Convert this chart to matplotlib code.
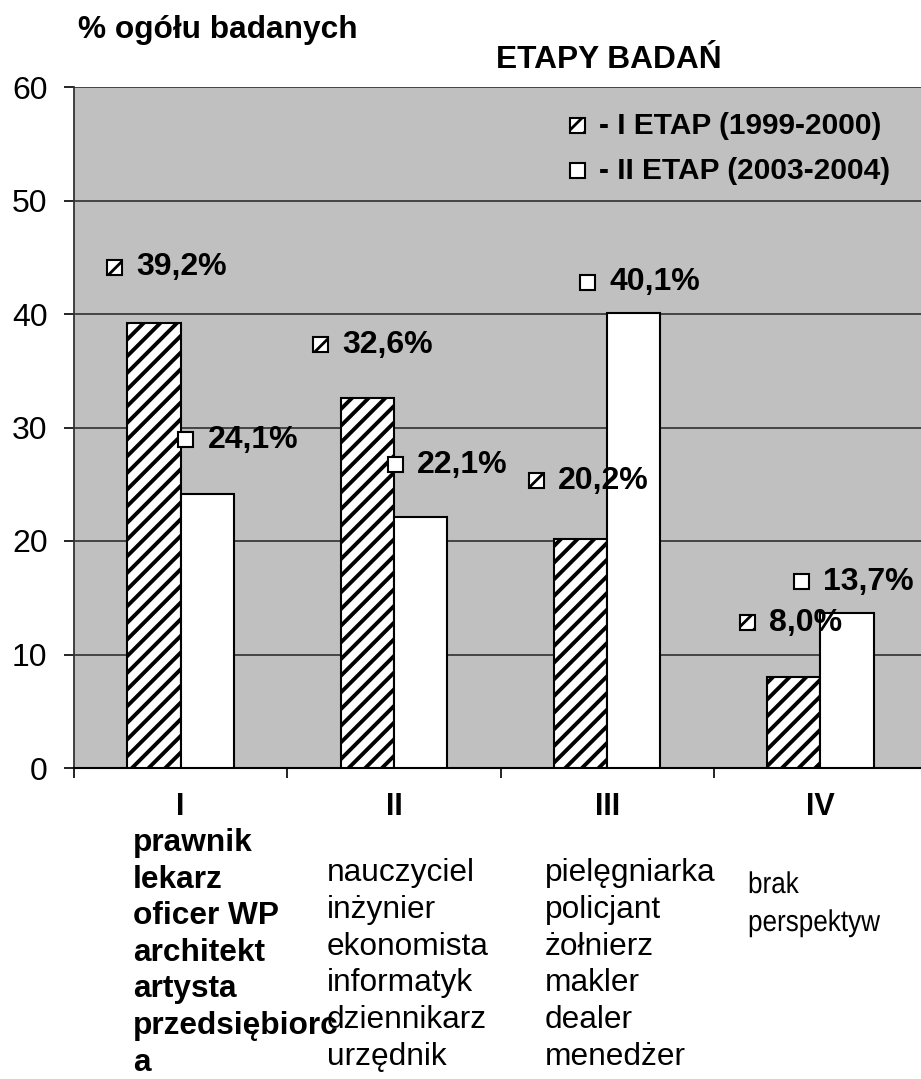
import matplotlib
matplotlib.use('Agg')
import matplotlib.pyplot as plt
from matplotlib.patches import Rectangle, PathPatch
from matplotlib.textpath import TextPath
from matplotlib.font_manager import FontProperties
from matplotlib.transforms import Affine2D

plt.rcParams['font.family'] = ['Liberation Sans', 'DejaVu Sans']

# wyniki w dwóch etapach badań (% ogółu badanych)
groups = ['I', 'II', 'III', 'IV']
etap1 = [39.2, 32.6, 20.2, 8.0]
etap2 = [24.1, 22.1, 40.1, 13.7]
series_names = ['- I ETAP (1999-2000)', '- II ETAP (2003-2004)']

# zawody przypisane do grup
jobs = [
    ['prawnik', 'lekarz', 'oficer WP', 'architekt', 'artysta', 'przedsiębiorc', 'a'],
    ['nauczyciel', 'inżynier', 'ekonomista', 'informatyk', 'dziennikarz', 'urzędnik'],
    ['pielęgniarka', 'policjant', 'żołnierz', 'makler', 'dealer', 'menedżer'],
    ['brak', 'perspektyw'],
]

# miejsca etykiet z wartościami (ręcznie przesunięte)
lab1_pos = [(0.192, 44.1), (1.158, 37.3), (2.170, 25.3), (3.159, 12.8)]
lab2_pos = [(0.525, 28.9), (1.509, 26.7), (2.409, 42.8), (3.413, 16.4)]

W, H = 921, 1079
fig = plt.figure(figsize=(W / 100, H / 100), dpi=100)
ax = fig.add_axes([74 / W, 1 - 768 / H, 853 / W, 681 / H])
ax.set_facecolor('#c0c0c0')

plt.rcParams['hatch.linewidth'] = 2.8
xs = [i + 0.5 for i in range(len(groups))]
bw = 0.25
ax.bar([x - bw / 2 for x in xs], etap1, bw, color='white', edgecolor='black',
       linewidth=1.5, hatch='//', zorder=3)
ax.bar([x + bw / 2 for x in xs], etap2, bw, color='white', edgecolor='black',
       linewidth=1.5, zorder=3)

ax.set_xlim(0, 4)
ax.set_ylim(0, 60)
ax.set_yticks(range(0, 61, 10))
ax.set_xticks(range(0, 5))
ax.set_xticklabels([])
ax.yaxis.grid(True, color='#3a3a3a', linewidth=1.3, zorder=1)
ax.set_axisbelow(True)
ax.tick_params(axis='y', direction='out', length=7, width=1.2, pad=12, labelsize=23)
ax.tick_params(axis='x', direction='out', length=7, width=1.2)
for s in ['top', 'right']:
    ax.spines[s].set_visible(False)
ax.spines['left'].set_color('#333333')
ax.spines['left'].set_linewidth(1.3)
ax.spines['bottom'].set_color('black')
ax.spines['bottom'].set_linewidth(1.5)

plt.rcParams['hatch.linewidth'] = 2.0
kw = 15 / 853 * 4
kh = 15 / 681 * 60


def key(x, y, hatched):
    r = Rectangle((x - kw / 2, y - kh / 2), kw, kh, facecolor='white',
                  edgecolor='black', linewidth=1.5, hatch='//' if hatched else None,
                  zorder=5, clip_on=False)
    ax.add_patch(r)


def fmt(v):
    return f'{v:.1f}%'.replace('.', ',')


for vals, pos, hatched in [(etap1, lab1_pos, True), (etap2, lab2_pos, False)]:
    for v, (lx, ly) in zip(vals, pos):
        key(lx, ly, hatched)
        ax.annotate(fmt(v), (lx, ly), xytext=(15.5, 0), textcoords='offset points',
                    ha='left', va='center', fontsize=23, fontweight='bold', zorder=6)

# legenda
for i, (name, hatched) in enumerate(zip(series_names, [True, False])):
    ly = 56.6 - i * 4.0
    key(2.363, ly, hatched)
    ax.annotate(name, (2.363, ly), xytext=(15.5, 0), textcoords='offset points',
                ha='left', va='center', fontsize=21.5, fontweight='bold')

fig.text(78 / W, 1 - 30 / H, '% ogółu badanych', ha='left', va='center',
         fontsize=22.8, fontweight='bold')
fig.text(609 / W, 1 - 60 / H, 'ETAPY BADAŃ', ha='center', va='center',
         fontsize=22.8, fontweight='bold')

# podpisy grup i listy zawodów
for x, g in zip(xs, groups):
    ax.annotate(g, (x, 0), xytext=(0, -28), textcoords='offset points',
                ha='center', va='center', fontsize=22, fontweight='bold',
                annotation_clip=False)

col_x = [133, 327, 545]
col_y0 = [843, 873, 873]
col_dy = [36.6, 36.8, 36.8]
col_weight = ['bold', 'normal', 'normal']
for c in range(3):
    for k, t in enumerate(jobs[c]):
        y = col_y0[c] + k * col_dy[c]
        fig.text(col_x[c] / W, 1 - y / H, t, ha='left', va='center',
                 fontsize=22.8, fontweight=col_weight[c])

# ostatnia kolumna zwężonym krojem
prop = FontProperties(family='Liberation Sans')
for k, t in enumerate(jobs[3]):
    base = 893 + k * 38
    tp = TextPath((0, 0), t, size=30, prop=prop)
    tr = Affine2D().scale(0.87, 1.0).translate(748, H - base)
    fig.patches.append(PathPatch(tr.transform_path(tp), facecolor='black',
                                 edgecolor='none', transform=None, figure=fig))

fig.savefig('out.png', dpi=100)
